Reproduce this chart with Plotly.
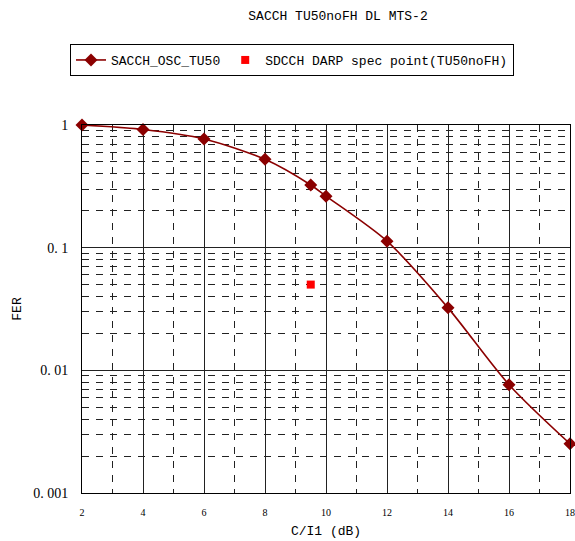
import plotly.graph_objects as go

# Data
cir_db = [2, 4, 6, 8, 9.5, 10, 12, 14, 16, 18]
fer_sacch = [1.0, 0.92, 0.77, 0.525, 0.324, 0.263, 0.113, 0.0323, 0.00764, 0.00252]
spec_x = [9.5]
spec_y = [0.05]

y_tickvals = [1, 0.1, 0.01, 0.001]
y_ticktext = ["1", "0. 1", "0. 01", "0. 001"]
x_tickvals = [2, 4, 6, 8, 10, 12, 14, 16, 18]
y_minor = [k * 10 ** e for e in (-3, -2, -1) for k in range(2, 10)]
x_minor = [3, 5, 7, 9, 11, 13, 15, 17]

MONO = "Liberation Mono"
SERIF = "Liberation Serif"

fig = go.Figure()
fig.add_trace(go.Scatter(
    x=cir_db, y=fer_sacch, mode="lines+markers", name="SACCH_OSC_TU50",
    line=dict(color="#8B0000", width=1.6, shape="spline", smoothing=0.8),
    marker=dict(symbol="diamond", size=10, color="#8B0000"),
    cliponaxis=False,
))
fig.add_trace(go.Scatter(
    x=spec_x, y=spec_y, mode="markers", name="SDCCH DARP spec point(TU50noFH)",
    marker=dict(symbol="square", size=8, color="#FF0000"),
    cliponaxis=False,
))

fig.update_layout(
    width=575, height=541,
    margin=dict(l=82, r=5, t=125, b=48),
    paper_bgcolor="white", plot_bgcolor="white",
    title=dict(text="SACCH TU50noFH DL MTS-2", font=dict(family=MONO, size=13, color="black"),
               x=338 / 575, xanchor="center", xref="container",
               y=1 - 15 / 541, yanchor="middle", yref="container"),
    legend=dict(orientation="h", x=70 / 575, xref="container", xanchor="left",
                y=1 - 44 / 541, yref="container", yanchor="top",
                bordercolor="black", borderwidth=1, bgcolor="white",
                font=dict(family=MONO, size=13, color="black")),
    xaxis=dict(
        range=[2, 18], tickmode="array", tickvals=x_tickvals, automargin=False,
        showline=True, linecolor="black", linewidth=1, mirror=True,
        showgrid=True, gridcolor="#222", gridwidth=1, zeroline=False,
        ticks="", ticklabelstandoff=10,
        tickfont=dict(family=SERIF, size=10, color="black"),
        minor=dict(tickmode="array", tickvals=x_minor, showgrid=True,
                   gridcolor="#222", gridwidth=1, griddash="7px,7px", ticks=""),
        title=dict(text="C/I1 (dB)", font=dict(family=MONO, size=13, color="black"), standoff=8),
    ),
    yaxis=dict(
        type="log", range=[-3, 0], tickmode="array", tickvals=y_tickvals, ticktext=y_ticktext,
        automargin=False,
        showline=True, linecolor="black", linewidth=1, mirror=True,
        showgrid=True, gridcolor="#222", gridwidth=1, zeroline=False,
        ticks="", ticklabelstandoff=10,
        tickfont=dict(family=SERIF, size=14, color="black"),
        minor=dict(tickmode="array", tickvals=y_minor, showgrid=True,
                   gridcolor="#222", gridwidth=1, griddash="7px,7px", ticks=""),
        title=dict(text="FER", font=dict(family=MONO, size=13, color="black"), standoff=8),
    ),
)

fig.write_html("out.html", config={"displayModeBar": False},
               post_script="document.body.style.margin='0';")
